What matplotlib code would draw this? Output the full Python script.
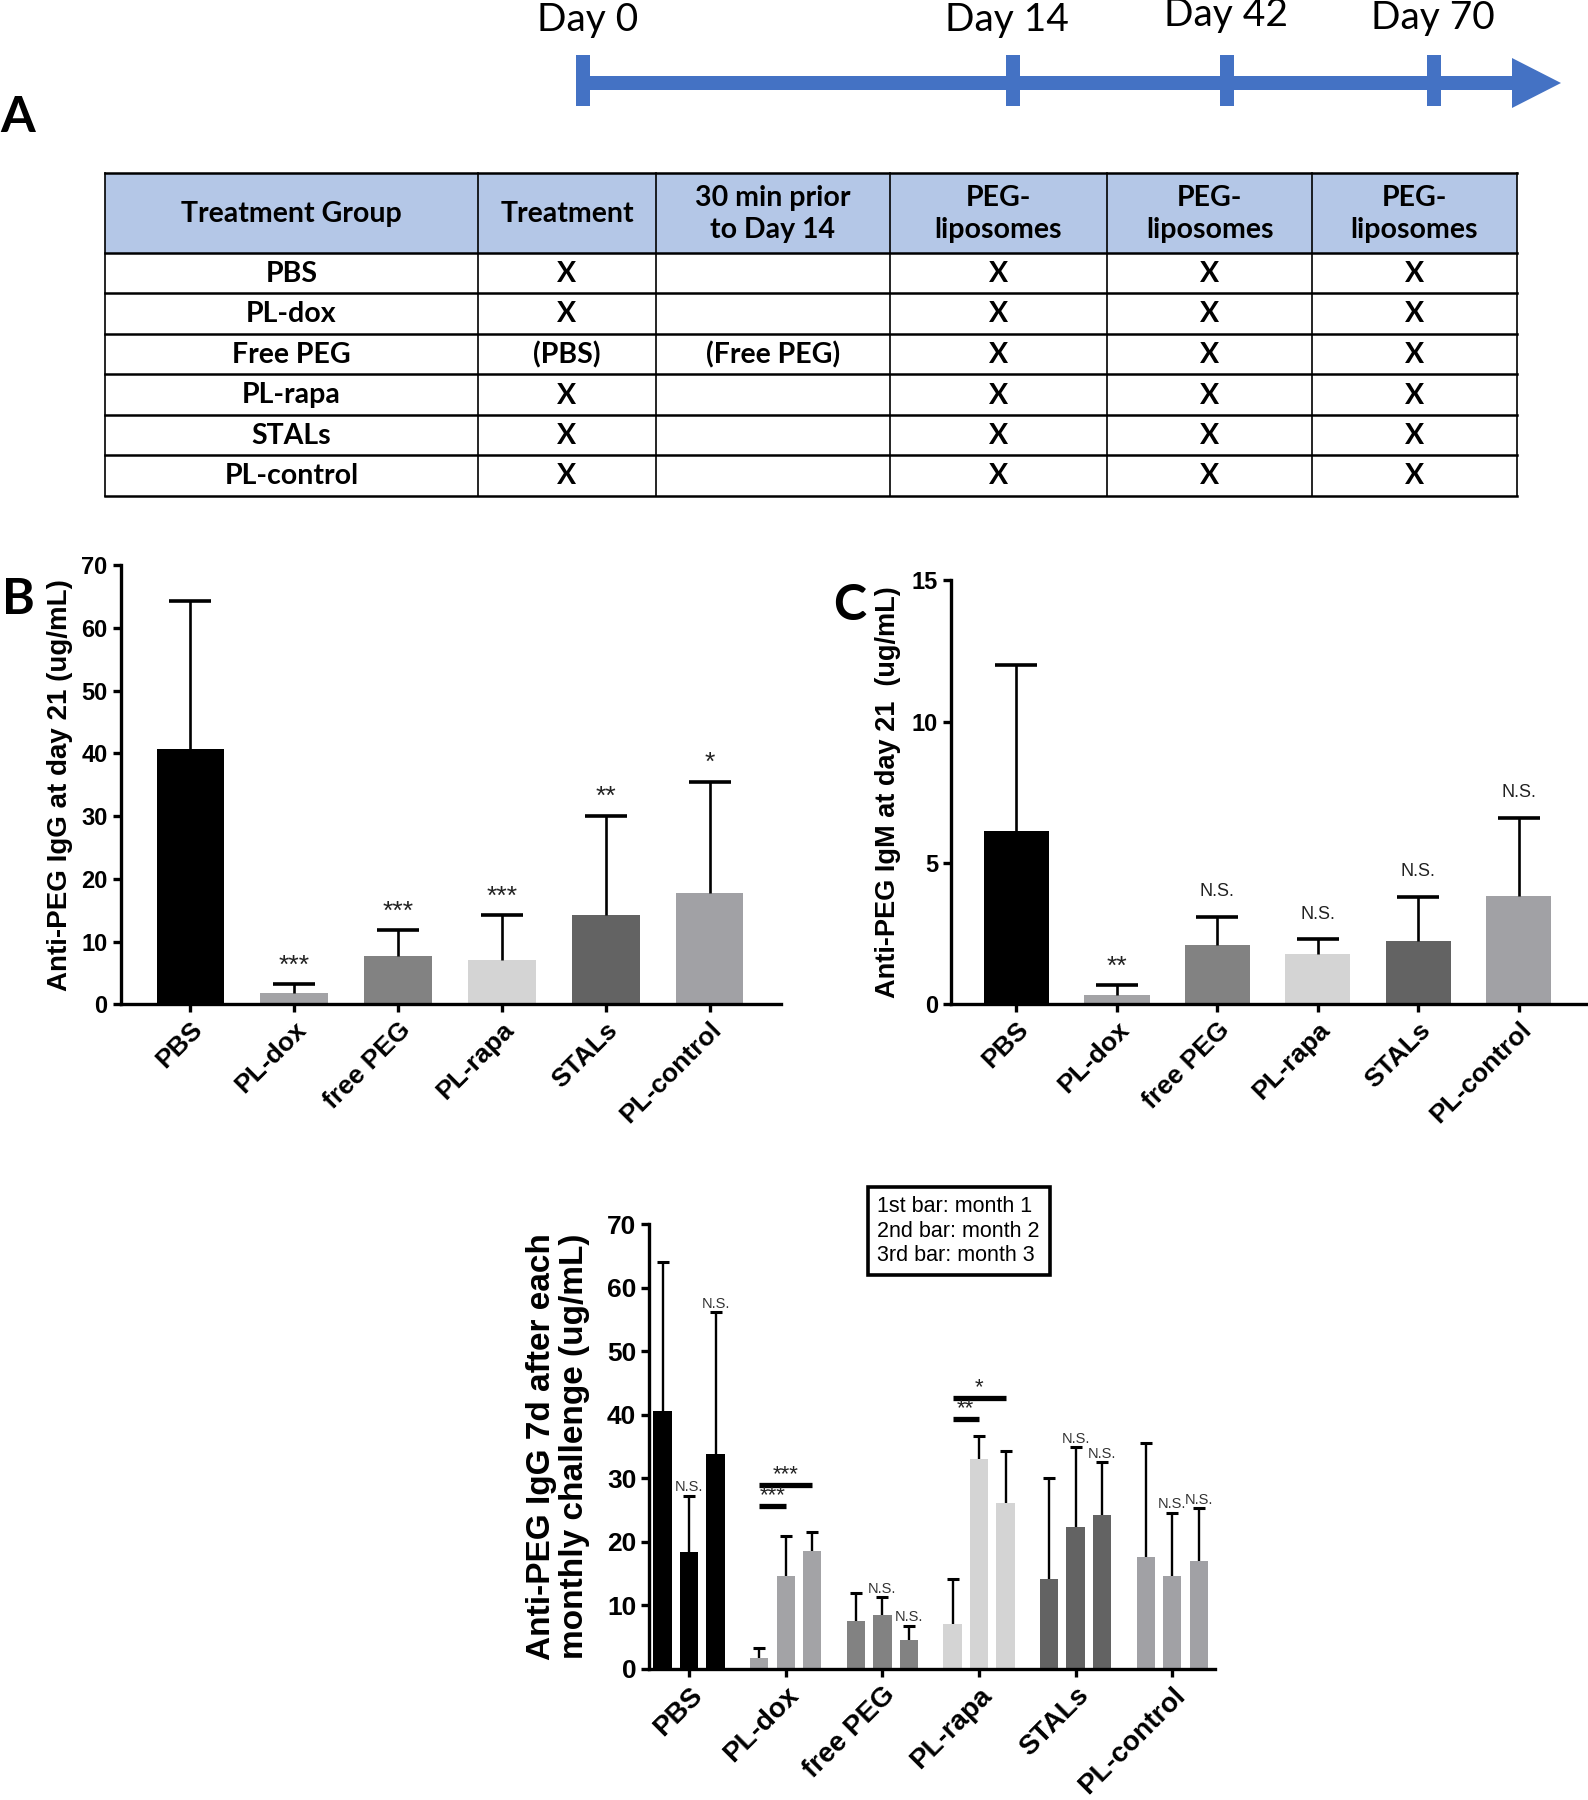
import numpy as np
import matplotlib.pyplot as plt
from matplotlib.patches import Rectangle, Polygon

# ---------------- data ----------------
groups = ['PBS', 'PL-dox', 'free PEG', 'PL-rapa', 'STALs', 'PL-control']
bar_colors = ['#000000', '#a3a3a6', '#828282', '#d4d4d4', '#636363', '#a1a1a5']

# panel B: anti-PEG IgG at day 21
igg_mean = [40.7, 1.8, 7.7, 7.1, 14.2, 17.7]
igg_err = [23.6, 1.4, 4.1, 7.1, 15.9, 17.8]
igg_sig = ['', '***', '***', '***', '**', '*']

# panel C: anti-PEG IgM at day 21
igm_mean = [6.15, 0.35, 2.1, 1.8, 2.25, 3.85]
igm_err = [5.85, 0.35, 1.0, 0.5, 1.55, 2.75]
igm_sig = ['', '**', 'N.S.', 'N.S.', 'N.S.', 'N.S.']

# panel D: IgG 7d after each monthly challenge (month 1, 2, 3)
month1 = [40.6, 1.7, 7.6, 7.1, 14.1, 17.7]
month2 = [18.4, 14.7, 8.5, 33.1, 22.4, 14.7]
month3 = [33.9, 18.6, 4.6, 26.2, 24.2, 17.0]
month1_err = [23.5, 1.6, 4.3, 7.0, 15.9, 17.9]
month2_err = [8.9, 6.2, 2.8, 3.5, 12.5, 9.9]
month3_err = [22.3, 2.9, 2.2, 8.1, 8.4, 8.3]
month2_sig = ['N.S.', '', 'N.S.', '', 'N.S.', 'N.S.']
month3_sig = ['N.S.', '', 'N.S.', '', 'N.S.', 'N.S.']
# brackets: (group index, to month, height, label)
brackets = [(1, 2, 25.6, '***'), (1, 3, 28.9, '***'),
            (3, 2, 39.3, '**'), (3, 3, 42.6, '*')]

# panel A: timeline and table
days = ['Day 0', 'Day 14', 'Day 42', 'Day 70']
header = ['Treatment Group', 'Treatment', '30 min prior\nto Day 14',
          'PEG-\nliposomes', 'PEG-\nliposomes', 'PEG-\nliposomes']
table_rows = [
    ['PBS', 'X', '', 'X', 'X', 'X'],
    ['PL-dox', 'X', '', 'X', 'X', 'X'],
    ['Free PEG', '(PBS)', '(Free PEG)', 'X', 'X', 'X'],
    ['PL-rapa', 'X', '', 'X', 'X', 'X'],
    ['STALs', 'X', '', 'X', 'X', 'X'],
    ['PL-control', 'X', '', 'X', 'X', 'X'],
]

W, H = 1588, 1800
fig = plt.figure(figsize=(W / 100, H / 100), dpi=100)

narrow = ['Liberation Sans Narrow', 'Liberation Sans', 'DejaVu Sans']
arial = ['Liberation Sans', 'DejaVu Sans']
calibri = ['Lato', 'DejaVu Sans']

# overlay in pixel coordinates for panel A and panel letters
ov = fig.add_axes([0, 0, 1, 1])
ov.set_xlim(0, W)
ov.set_ylim(H, 0)
ov.axis('off')

blue = '#4472c4'
day_x = [583, 1013, 1227, 1434]
label_x = [588, 1007, 1226, 1433]
label_y = [20, 20, 15, 18]
ov.add_patch(Rectangle((583, 76), 1515 - 583, 14, color=blue, lw=0))
ov.add_patch(Polygon([[1512, 58], [1561, 83], [1512, 108]], closed=True, color=blue, lw=0))
for xt, xl, yl, lab in zip(day_x, label_x, label_y, days):
    ov.add_patch(Rectangle((xt - 7, 55), 14, 51, color=blue, lw=0))
    ov.text(xl, yl, lab, ha='center', va='center', fontsize=28, family=calibri)

ov.text(18, 118, 'A', ha='center', va='center', fontsize=36, fontweight='bold', family=calibri)
ov.text(18, 600, 'B', ha='center', va='center', fontsize=36, fontweight='bold', family=calibri)
ov.text(850, 605, 'C', ha='center', va='center', fontsize=36, fontweight='bold', family=calibri)

col_x = [105, 478, 656, 890, 1107, 1312, 1517]
row_y = [173, 253, 293, 334, 374, 415, 455, 496]
ov.add_patch(Rectangle((col_x[0], row_y[0]), col_x[-1] - col_x[0], row_y[1] - row_y[0],
                       facecolor='#b4c7e7', lw=0))
for y in row_y:
    ov.plot([col_x[0], col_x[-1]], [y, y], color='black', lw=1.8)
for xx in col_x:
    ov.plot([xx, xx], [row_y[0], row_y[-1]], color='black', lw=1.2)
all_rows = [header] + table_rows
for r, row in enumerate(all_rows):
    yc = (row_y[r] + row_y[r + 1]) / 2
    for c, txt in enumerate(row):
        xc = (col_x[c] + col_x[c + 1]) / 2
        ov.text(xc, yc + 1, txt, ha='center', va='center', fontsize=20.5, fontweight='bold',
                family=calibri, linespacing=1.25)


def style_axis(ax):
    for s in ['top', 'right']:
        ax.spines[s].set_visible(False)
    for s in ['left', 'bottom']:
        ax.spines[s].set_linewidth(2.4)
    ax.tick_params(width=2.4, length=6, direction='out')


def up_errors(ax, xs, means, errs, cap, lw, cw):
    tops = np.array(means) + np.array(errs)
    ax.vlines(xs, means, tops, color='black', lw=lw, zorder=3)
    ax.plot(xs, tops, ls='none', marker='_', ms=cap, mew=cw, color='black', zorder=3)


def tick_fonts(ax, xsize, ysize):
    ax.set_xticklabels(groups, rotation=45, ha='right', rotation_mode='anchor',
                       fontsize=xsize, fontweight='bold', family=arial)
    for t in ax.get_yticklabels():
        t.set_fontsize(ysize); t.set_fontweight('bold'); t.set_family(arial)


x = np.arange(len(groups))

# ---------------- panel B ----------------
axB = fig.add_axes([0.076, 0.442, 0.416, 0.244])
axB.bar(x, igg_mean, width=0.65, color=bar_colors)
up_errors(axB, x, igg_mean, igg_err, 30, 1.9, 2.6)
for i, s in enumerate(igg_sig):
    if s:
        axB.annotate(s, (x[i], igg_mean[i] + igg_err[i]), xytext=(0, 5), textcoords='offset points',
                     ha='center', va='bottom', fontsize=19, family=arial, color='#222222')
axB.set_xlim(-0.67, 5.69)
axB.set_ylim(0, 70)
axB.set_yticks(np.arange(0, 71, 10))
axB.set_xticks(x)
tick_fonts(axB, 19, 17)
axB.set_ylabel('Anti-PEG IgG at day 21 (ug/mL)', fontsize=20, fontweight='bold', family=arial, labelpad=6)
style_axis(axB)

# ---------------- panel C ----------------
axC = fig.add_axes([0.599, 0.442, 0.401, 0.2356])
axC.bar(x, igm_mean, width=0.65, color=bar_colors)
up_errors(axC, x, igm_mean, igm_err, 30, 1.9, 2.6)
for i, s in enumerate(igm_sig):
    if s == '**':
        axC.annotate(s, (x[i], igm_mean[i] + igm_err[i]), xytext=(0, 4), textcoords='offset points',
                     ha='center', va='bottom', fontsize=19, family=arial, color='#222222')
    elif s:
        axC.annotate(s, (x[i], igm_mean[i] + igm_err[i]), xytext=(0, 12), textcoords='offset points',
                     ha='center', va='bottom', fontsize=13, family=narrow, color='#222222')
axC.set_xlim(-0.65, 5.69)
axC.set_ylim(0, 15)
axC.set_yticks([0, 5, 10, 15])
axC.set_xticks(x)
tick_fonts(axC, 19, 17)
axC.set_ylabel('Anti-PEG IgM at day 21  (ug/mL)', fontsize=19.5, fontweight='bold', family=arial, labelpad=8)
style_axis(axC)

# ---------------- panel D ----------------
axD = fig.add_axes([0.409, 0.0728, 0.356, 0.247])
off = 0.274
bw = 0.19
months = [month1, month2, month3]
merrs = [month1_err, month2_err, month3_err]
for k in range(3):
    xs = x + (k - 1) * off
    axD.bar(xs, months[k], width=bw, color=bar_colors)
    up_errors(axD, xs, months[k], merrs[k], 9, 1.7, 2.2)
for k, sig in [(1, month2_sig), (2, month3_sig)]:
    for i, s in enumerate(sig):
        if s:
            axD.annotate(s, (x[i] + k * off - off, months[k][i] + merrs[k][i]), xytext=(0, 1),
                         textcoords='offset points', ha='center', va='bottom',
                         fontsize=10.5, family=narrow, color='#333333')
for g, m, h, s in brackets:
    x0 = x[g] - off
    x1 = x[g] + (m - 2) * off
    axD.plot([x0, x1], [h, h], color='black', lw=3.8, solid_capstyle='butt')
    axD.annotate(s, ((x0 + x1) / 2, h), xytext=(0, 0), textcoords='offset points',
                 ha='center', va='bottom', fontsize=16, family=arial, color='#222222')
axD.set_xlim(-0.41, 5.44)
axD.set_ylim(0, 70)
axD.set_yticks(np.arange(0, 71, 10))
axD.set_xticks(x)
tick_fonts(axD, 20, 19)
axD.set_ylabel('Anti-PEG IgG 7d after each\nmonthly challenge (ug/mL)', fontsize=24,
               fontweight='bold', family=arial, labelpad=12, linespacing=1.1)
style_axis(axD)
axD.text(0.547, 0.985, '1st bar: month 1\n2nd bar: month 2\n3rd bar: month 3', transform=axD.transAxes,
         ha='center', va='center', multialignment='left', fontsize=15.5, family=arial, linespacing=1.2,
         bbox=dict(boxstyle='square,pad=0.45', facecolor='white', edgecolor='black', lw=2.6))

fig.savefig('out.png', dpi=100)
